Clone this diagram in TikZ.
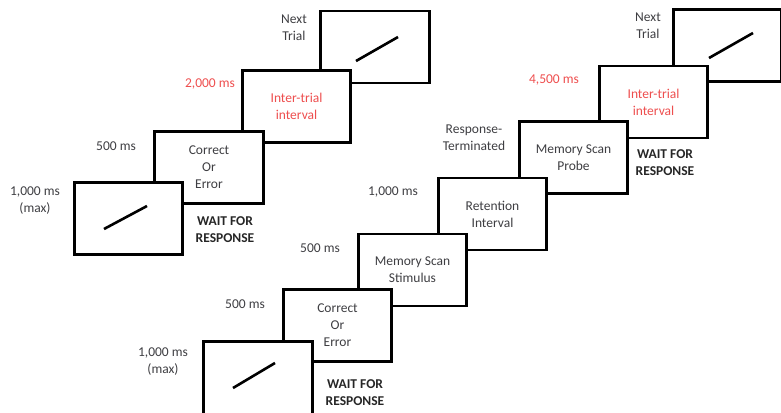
\documentclass[tikz,border=0pt]{standalone}
\usepackage{fontspec}
\setmainfont{Carlito}
\usetikzlibrary{calc}
\definecolor{txt}{RGB}{62,62,66}
\definecolor{itired}{RGB}{238,78,78}
\tikzset{
  scr/.style={draw,line width=2.6pt,fill=white,minimum width=108.5pt,
    minimum height=72pt,inner sep=0pt,align=center,text=txt},
  lab/.style={align=center,text=txt,inner sep=0pt},
  iti/.style={text=itired},
  wait/.style={lab,font=\fontsize{13.5}{17}\selectfont\bfseries,text=black!85},
  bar/.style={line width=2.6pt},
}

\begin{document}
\begin{tikzpicture}[x=1pt,y=-1pt,font=\fontsize{13.5}{17}\selectfont]
  \useasboundingbox (0,0) rectangle (781,412);
  % simple trial (left), drawn back to front
  \node[scr] (nextA) at (375,47) {};
  \draw[bar] ($(nextA.center)+(-19,14)$) -- ($(nextA.center)+(23,-10)$);
  \node[scr,iti] (itiA) at (296.5,106.5) {Inter-trial\\interval};
  \node[scr] (fbA) at (209,167.5) {Correct\\Or\\Error};
  \node[scr] (stimA) at (128.5,218.5) {};
  \draw[bar] ($(stimA.center)+(-24.5,10.5)$) -- ($(stimA.center)+(18.5,-12.5)$);

  \node[lab] (tStimA) at (35,200.5) {1,000 ms\\(max)};
  \node[lab] (tFbA) at (116,146) {500 ms};
  \node[lab,iti] (tItiA) at (210,84) {2,000 ms};
  \node[lab] (tNextA) at (294,27.5) {Next\\Trial};
  \node[wait] (waitA) at (225,229.5) {WAIT FOR\\RESPONSE};

  % memory scan trial (right)
  \node[scr] (nextB) at (727.5,45.5) {};
  \draw[bar] ($(nextB.center)+(-18.5,12.5)$) -- ($(nextB.center)+(25.5,-12.5)$);
  \node[scr,iti] (itiB) at (653.5,102) {Inter-trial\\interval};
  \node[scr] (probeB) at (573.5,157.5) {Memory Scan\\Probe};
  \node[scr] (retB) at (492.5,214) {Retention\\Interval};
  \node[scr] (memB) at (412.5,270) {Memory Scan\\Stimulus};
  \node[scr] (fbB) at (337.5,325.5) {Correct\\Or\\Error};
  \node[scr,minimum height=78pt] (stimB) at (258,380.5) {};
  \draw[bar] ($(stimB.center)+(-25,7.5)$) -- ($(stimB.center)+(17,-17.5)$);

  \node[lab] (tStimB) at (163,361.5) {1,000 ms\\(max)};
  \node[lab] (tFbB) at (245,304) {500 ms};
  \node[lab] (tMemB) at (320,248) {500 ms};
  \node[lab] (tRetB) at (393,192) {1,000 ms};
  \node[lab] (tProbeB) at (474,137.5) {Response-\\Terminated};
  \node[lab,iti] (tItiB) at (554,80) {4,500 ms};
  \node[lab] (tNextB) at (648,25.5) {Next\\Trial};
  \node[wait] (waitB) at (665,162.5) {WAIT FOR\\RESPONSE};
  \node[wait] (waitC) at (355,392.5) {WAIT FOR\\RESPONSE};
\end{tikzpicture}
\end{document}
